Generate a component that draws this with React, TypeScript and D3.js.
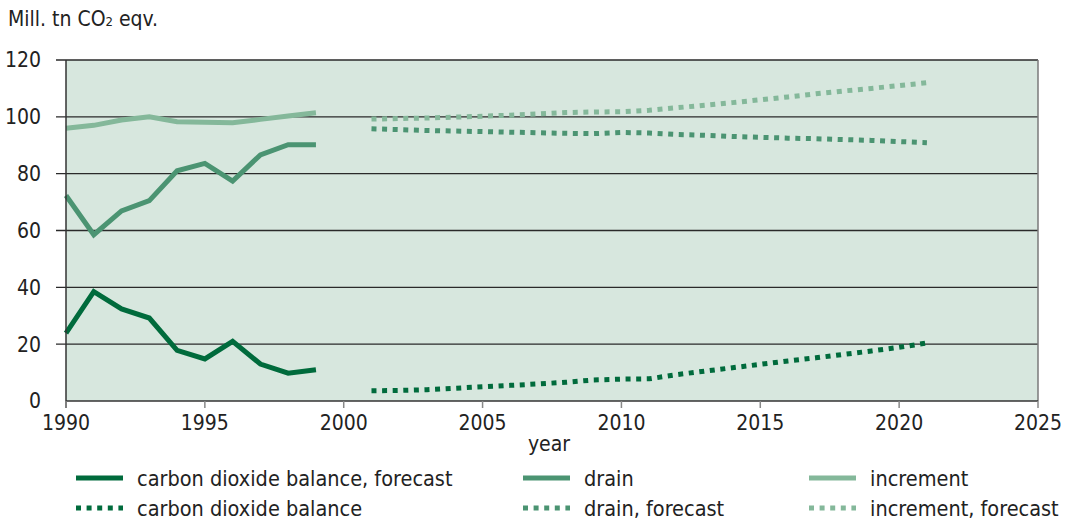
import React, { useEffect, useRef } from "react";
import * as d3 from "d3";

const histYears = [1990, 1991, 1992, 1993, 1994, 1995, 1996, 1997, 1998, 1999];
const balance = [23.9, 38.5, 32.4, 29.2, 17.8, 14.8, 21.0, 13.0, 9.8, 11.0];
const drain = [72.3, 58.5, 66.9, 70.5, 81.0, 83.6, 77.4, 86.6, 90.2, 90.2];
const increment = [96.0, 97.0, 98.9, 100.0, 98.3, 98.1, 97.9, 99.1, 100.3, 101.4];

const fcYears = [2001, 2002, 2003, 2004, 2005, 2006, 2007, 2008, 2009, 2010, 2011,
  2012, 2013, 2014, 2015, 2016, 2017, 2018, 2019, 2020, 2021];
const balanceFc = [3.6, 3.7, 4.0, 4.5, 5.0, 5.5, 6.0, 6.6, 7.4, 7.7, 7.8,
  9.3, 10.5, 11.7, 12.9, 14.1, 15.2, 16.4, 17.6, 18.9, 20.4];
const drainFc = [95.8, 95.5, 95.2, 95.0, 94.8, 94.6, 94.4, 94.2, 94.1, 94.5, 94.3,
  93.8, 93.5, 93.1, 92.8, 92.5, 92.3, 92.0, 91.7, 91.3, 90.9];
const incrementFc = [99.2, 99.4, 99.6, 99.9, 100.2, 100.6, 101.0, 101.5, 101.7, 101.8, 102.3,
  103.2, 104.1, 105.0, 106.0, 107.0, 108.1, 109.1, 110.0, 111.0, 112.0];

const xTicks = [1990, 1995, 2000, 2005, 2010, 2015, 2020, 2025];
const yTicks = [0, 20, 40, 60, 80, 100, 120];

const colors = { balance: "#006b3c", drain: "#4b9472", increment: "#84b89a" };

const legendItems = [
  { label: "carbon dioxide balance, forecast", color: colors.balance, dotted: false, col: 0, row: 0 },
  { label: "carbon dioxide balance", color: colors.balance, dotted: true, col: 0, row: 1 },
  { label: "drain", color: colors.drain, dotted: false, col: 1, row: 0 },
  { label: "drain, forecast", color: colors.drain, dotted: true, col: 1, row: 1 },
  { label: "increment", color: colors.increment, dotted: false, col: 2, row: 0 },
  { label: "increment, forecast", color: colors.increment, dotted: true, col: 2, row: 1 },
];

const FONT = "'Liberation Sans Narrow', 'DejaVu Sans Condensed', sans-serif";
const DASH = "5,5.6";

export default function App() {
  const ref = useRef<SVGSVGElement>(null);

  useEffect(() => {
    const svg = d3.select(ref.current);
    svg.selectAll("*").remove();
    const left = 66, right = 1038, top = 60, bottom = 401;

    const x = d3.scaleLinear().domain([1990, 2025]).range([left, right]);
    const y = d3.scaleLinear().domain([0, 120]).range([bottom, top]);

    svg.append("rect")
      .attr("x", left).attr("y", top)
      .attr("width", right - left).attr("height", bottom - top)
      .attr("fill", "#d7e7de");

    // gridlines
    svg.append("g").selectAll("line").data(yTicks.filter(d => d > 0)).enter()
      .append("line")
      .attr("x1", left - 10).attr("x2", right)
      .attr("y1", d => y(d)).attr("y2", d => y(d))
      .attr("stroke", "#2a2a2a").attr("stroke-width", 1.3);

    svg.append("line")
      .attr("x1", right).attr("x2", right).attr("y1", top).attr("y2", bottom)
      .attr("stroke", "#7a7a7a").attr("stroke-width", 1.5);

    const line = d3.line<[number, number]>().x(d => x(d[0])).y(d => y(d[1]));
    const zip = (xs: number[], vs: number[]) => xs.map((v, i) => [v, vs[i]] as [number, number]);

    const series = [
      { xs: fcYears, vs: incrementFc, c: colors.increment, dotted: true },
      { xs: fcYears, vs: drainFc, c: colors.drain, dotted: true },
      { xs: fcYears, vs: balanceFc, c: colors.balance, dotted: true },
      { xs: histYears, vs: increment, c: colors.increment, dotted: false },
      { xs: histYears, vs: drain, c: colors.drain, dotted: false },
      { xs: histYears, vs: balance, c: colors.balance, dotted: false },
    ];
    series.forEach(s => {
      svg.append("path")
        .attr("d", line(zip(s.xs, s.vs)))
        .attr("fill", "none")
        .attr("stroke", s.c)
        .attr("stroke-width", 5)
        .attr("stroke-dasharray", s.dotted ? DASH : null)
        .attr("stroke-linejoin", "miter");
    });

    // axes
    const yAxis = svg.append("g");
    yAxis.append("line")
      .attr("x1", left).attr("x2", left).attr("y1", top).attr("y2", bottom + 7)
      .attr("stroke", "#333").attr("stroke-width", 1.5);
    yAxis.selectAll("text").data(yTicks).enter().append("text")
      .attr("x", 41).attr("y", d => y(d))
      .attr("dy", "0.35em")
      .attr("text-anchor", "end")
      .style("font-family", FONT).style("font-size", "21px").attr("fill", "#222")
      .text(d => d);

    const xAxis = svg.append("g");
    xAxis.append("line")
      .attr("x1", left).attr("x2", right).attr("y1", bottom).attr("y2", bottom)
      .attr("stroke", "#333").attr("stroke-width", 1.5);
    xAxis.selectAll("line.tick").data(xTicks).enter().append("line")
      .attr("class", "tick")
      .attr("x1", d => x(d)).attr("x2", d => x(d))
      .attr("y1", bottom).attr("y2", bottom + 7)
      .attr("stroke", "#888").attr("stroke-width", 1.5);
    xAxis.selectAll("text").data(xTicks).enter().append("text")
      .attr("x", d => x(d)).attr("y", 423)
      .attr("dy", "0.35em")
      .attr("text-anchor", "middle")
      .style("font-family", FONT).style("font-size", "21px").attr("fill", "#222")
      .text(d => d);

    svg.append("text")
      .attr("x", 549).attr("y", 444).attr("dy", "0.35em")
      .attr("text-anchor", "middle")
      .style("font-family", FONT).style("font-size", "21px").attr("fill", "#222")
      .text("year");

    const title = svg.append("text")
      .attr("x", 8).attr("y", 26)
      .style("font-family", FONT).style("font-size", "21px").attr("fill", "#222");
    title.append("tspan").text("Mill. tn CO");
    title.append("tspan").style("font-size", "13px").text("2");
    title.append("tspan").text(" eqv.");

    // legend
    const colX = [76, 523, 809];
    const rowY = [478, 508];
    const lg = svg.append("g").selectAll("g").data(legendItems).enter().append("g")
      .attr("transform", d => `translate(${colX[d.col]},${rowY[d.row]})`);
    lg.append("line")
      .attr("x1", 0).attr("x2", 47).attr("y1", 0).attr("y2", 0)
      .attr("stroke", d => d.color).attr("stroke-width", 5)
      .attr("stroke-dasharray", d => (d.dotted ? DASH : null));
    lg.append("text")
      .attr("x", 61).attr("y", 0).attr("dy", "0.35em")
      .style("font-family", FONT).style("font-size", "21.5px").attr("fill", "#222")
      .text(d => d.label);
  }, []);

  return (
    <svg
      ref={ref}
      width={1072}
      height={524}
      style={{ position: "absolute", left: 0, top: 0, background: "#fff" }}
    />
  );
}
